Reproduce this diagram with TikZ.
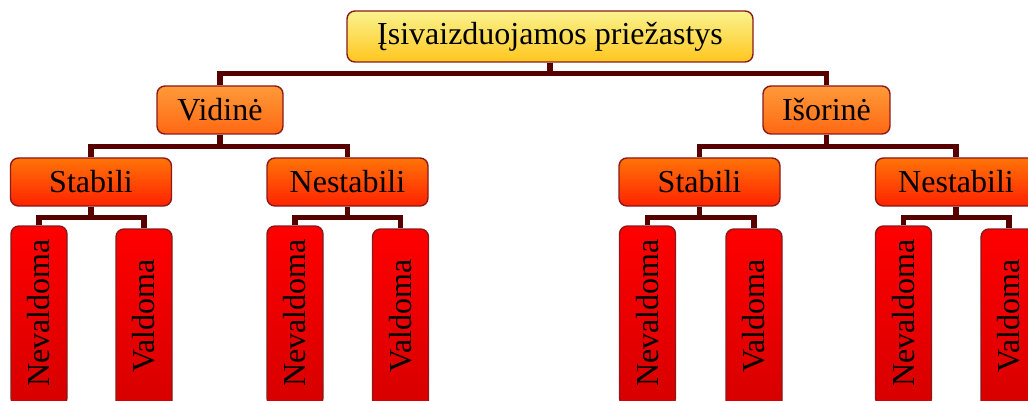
\documentclass[tikz,border=0pt]{standalone}
\usepackage{fontspec}
\setmainfont{Liberation Serif}
\definecolor{bord}{HTML}{8A1A1A}
\definecolor{conncol}{HTML}{560000}
\definecolor{ytop}{HTML}{FAF38E}
\definecolor{ybot}{HTML}{FFC61E}
\definecolor{otop}{HTML}{FF9A3A}
\definecolor{obot}{HTML}{FF6812}
\definecolor{rtop}{HTML}{FF7408}
\definecolor{rbot}{HTML}{FF2200}
\definecolor{ltop}{HTML}{FF0000}
\definecolor{lbot}{HTML}{D60000}
\tikzset{
  boxbase/.style={draw=bord, line width=1.4pt, rounded corners=8pt, inner sep=0pt,
    font=\fontsize{32}{38}\selectfont, text=black},
  lvlzero/.style={boxbase, top color=ytop, bottom color=ybot, minimum width=406pt, minimum height=51pt},
  lvlone/.style={boxbase, top color=otop, bottom color=obot, minimum height=48pt},
  lvltwo/.style={boxbase, top color=rtop, bottom color=rbot, minimum width=161pt, minimum height=48pt},
  leafbox/.style={boxbase, top color=ltop, bottom color=lbot, minimum width=56pt, minimum height=180pt},
  conn/.style={draw=conncol, line width=5.5pt}
}
\newcommand{\leaftext}[1]{\rotatebox{90}{\hspace{6pt}#1}}
\begin{document}
\begin{tikzpicture}[x=1pt,y=-1pt]
\useasboundingbox (0,0) rectangle (1028,401);
\clip (0,0) rectangle (1028,401);
% nodes
\node[lvlzero] (top) at (550,36.5) {Įsivaizduojamos priežastys};
\node[lvlone, minimum width=126pt] (vid) at (220,110) {Vidinė};
\node[lvlone, minimum width=127pt] (isor) at (826.5,110) {Išorinė};
\node[lvltwo] (s1) at (91,182) {Stabili};
\node[lvltwo] (n1) at (347.5,182) {Nestabili};
\node[lvltwo] (s2) at (699.5,182) {Stabili};
\node[lvltwo] (n2) at (956,182) {Nestabili};
\node[leafbox] (l1) at (39,316) {\leaftext{Nevaldoma}};
\node[leafbox] (l2) at (144,319) {\leaftext{Valdoma}};
\node[leafbox] (l3) at (295,316) {\leaftext{Nevaldoma}};
\node[leafbox] (l4) at (400.5,319) {\leaftext{Valdoma}};
\node[leafbox] (l5) at (647.5,316) {\leaftext{Nevaldoma}};
\node[leafbox] (l6) at (754,319) {\leaftext{Valdoma}};
\node[leafbox] (l7) at (903.5,316) {\leaftext{Nevaldoma}};
\node[leafbox] (l8) at (1009,319) {\leaftext{Valdoma}};
% bar levels
\coordinate (barA) at (0,73.5);
\coordinate (barB) at (0,146.5);
\coordinate (barC) at (0,217.5);
% connectors
\draw[conn] (top.south) -- (top.south |- barA);
\draw[conn] (vid.north) |- (top.south |- barA) -| (isor.north);
\draw[conn] (vid.south) -- (vid.south |- barB);
\draw[conn] (s1.north) |- (vid.south |- barB) -| (n1.north);
\draw[conn] (isor.south) -- (isor.south |- barB);
\draw[conn] (s2.north) |- (isor.south |- barB) -| (n2.north);
\draw[conn] (s1.south) -- (s1.south |- barC);
\draw[conn] (l1.north) |- (s1.south |- barC) -| (l2.north);
\draw[conn] (n1.south) -- (n1.south |- barC);
\draw[conn] (l3.north) |- (n1.south |- barC) -| (l4.north);
\draw[conn] (s2.south) -- (s2.south |- barC);
\draw[conn] (l5.north) |- (s2.south |- barC) -| (l6.north);
\draw[conn] (n2.south) -- (n2.south |- barC);
\draw[conn] (l7.north) |- (n2.south |- barC) -| (l8.north);
\end{tikzpicture}
\end{document}
